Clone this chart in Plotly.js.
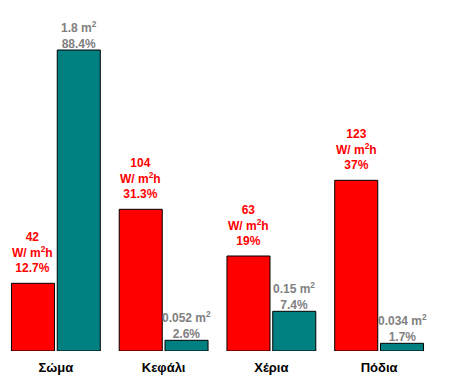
<!DOCTYPE html>
<html>
<head>
<meta charset="utf-8">
<script src="https://cdn.plot.ly/plotly-3.0.1.min.js"></script>
<style>html,body{margin:0;padding:0;background:#fff;}#chart{width:455px;height:380px;}</style>
</head>
<body>
<div id="chart"></div>
<script>
// Categories (body parts)
var categories = ["Σώμα", "Κεφάλι", "Χέρια", "Πόδια"];
// Heat loss per body part (W/m²h) and its share
var heatValues = ["42", "104", "63", "123"];
var heatShares = ["12.7%", "31.3%", "19%", "37%"];
// Surface area per body part (m²) and its share
var areaValues = ["1.8", "0.052", "0.15", "0.034"];
var areaShares = ["88.4%", "2.6%", "7.4%", "1.7%"];
// Drawn bar heights (arbitrary units)
var heatBarHeights = [67.7, 141.7, 95, 170.7];
var areaBarHeights = [301, 10.7, 39.7, 7.7];

var fontFam = "Liberation Sans, Arial, sans-serif";
var bargap = 0.15;
var barOffset = (1 - bargap) / 4; // centre of each bar relative to its category

var traces = [
  {
    type: "bar", x: categories, y: heatBarHeights, name: "W/m²h",
    marker: {color: "#ff0000", line: {color: "#000000", width: 1}},
    hoverinfo: "skip"
  },
  {
    type: "bar", x: categories, y: areaBarHeights, name: "m²",
    marker: {color: "#008080", line: {color: "#000000", width: 1}},
    hoverinfo: "skip"
  }
];

var annotations = [];
categories.forEach(function (c, i) {
  annotations.push({
    xref: "x", yref: "y", x: i - barOffset, y: heatBarHeights[i],
    xanchor: "center", yanchor: "bottom", yshift: 6, showarrow: false,
    text: heatValues[i] + "<br>W/ m<sup>2</sup>h<br>" + heatShares[i],
    font: {family: fontFam, size: 12, color: "#ff0000", weight: "bold"}
  });
  annotations.push({
    xref: "x", yref: "y", x: i + barOffset, y: areaBarHeights[i],
    xanchor: "center", yanchor: "bottom", yshift: -3, showarrow: false,
    text: areaValues[i] + " m<sup>2</sup><br>" + areaShares[i],
    font: {family: fontFam, size: 12, color: "#808080", weight: "bold"}
  });
});

var layout = {
  width: 455, height: 380,
  margin: {l: 2, r: 22, t: 0, b: 29, pad: 0},
  paper_bgcolor: "#ffffff", plot_bgcolor: "#ffffff",
  showlegend: false,
  barmode: "group", bargap: bargap, bargroupgap: 0.06,
  xaxis: {
    type: "category", range: [-0.5, 3.5], fixedrange: true,
    showgrid: false, zeroline: false, showline: false,
    ticks: "outside", ticklen: 4, tickcolor: "rgba(0,0,0,0)",
    tickfont: {family: fontFam, size: 13, color: "#000000", weight: "bold"}
  },
  yaxis: {
    range: [0, 351], fixedrange: true, visible: false,
    showgrid: false, zeroline: false
  },
  annotations: annotations,
  font: {family: fontFam}
};

Plotly.newPlot("chart", traces, layout, {displayModeBar: false, staticPlot: true});
</script>
</body>
</html>
